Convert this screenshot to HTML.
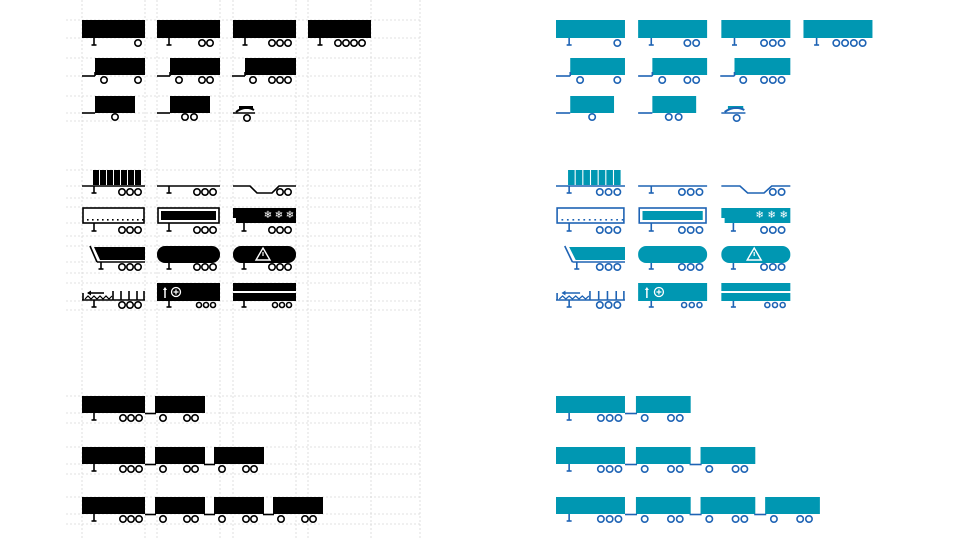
<!DOCTYPE html>
<html><head><meta charset="utf-8"><style>html,body{margin:0;padding:0;background:#fff;width:960px;height:540px;overflow:hidden}</style></head>
<body>
<svg id="s" width="960" height="540" xmlns="http://www.w3.org/2000/svg"></svg>
<script>
const S=document.getElementById('s');let h='';
const vx=[82,145,157,220,233,296,308,371,420];
vx.forEach(x=>h+=`<line x1="${x}" y1="0" x2="${x}" y2="540" stroke="#d8d8d8" stroke-width="0.8" stroke-dasharray="2,2"/>`);
const hy=[20,38,58,76,96,113,121,170,186,198,207,223,236,246,262,273,283,301,310,396,413,423,447,464,474,497,514,524];
hy.forEach(y=>h+=`<line x1="66" y1="${y}" x2="420" y2="${y}" stroke="#d8d8d8" stroke-width="0.8" stroke-dasharray="2,2"/>`);
function draw(O,s,F,L){
 let g='';
 const X=x=>O+(x-82)*s;
 const R=(x,y,w,hh,c=F)=>g+=`<rect x="${X(x)}" y="${y}" width="${w*s}" height="${hh}" fill="${c}"/>`;
 const W=(x,y,r=3.2)=>g+=`<circle cx="${X(x)}" cy="${y}" r="${r}" fill="none" stroke="${L}" stroke-width="1.6"/>`;
 const Ln=(x1,y1,x2,y2,w=1.6)=>g+=`<line x1="${X(x1)}" y1="${y1}" x2="${X(x2)}" y2="${y2}" stroke="${L}" stroke-width="${w}"/>`;
 const leg=(x,y1,y2)=>{Ln(x,y1,x,y2);g+=`<line x1="${X(x)-2.5}" y1="${y2}" x2="${X(x)+2.5}" y2="${y2}" stroke="${L}" stroke-width="1.6"/>`};
 [[82,[138]],[157,[202,210]],[233,[272,280,288]],[308,[338,346,354,362]]].forEach(([x,ws])=>{R(x,20,63,18);leg(x+12,38,45);ws.forEach(w=>W(w,43))});
 [[95,104,[138]],[170,179,[202,210]],[245,253,[272,280,288]]].forEach(([x,f,ws],i)=>{R(x,58,(i==2?51:50),17);Ln(x-13,76,x,76);Ln(x,76,x,72);W(f,80);ws.forEach(w=>W(w,80))});
 R(95,96,40,17);Ln(82,113,95,113);W(115,117);
 R(170,96,40,17);Ln(157,113,170,113);W(185,117);W(194,117);
 R(239,106,14,3);Ln(233,113,255,113);g+=`<path d="M${X(236)} 112 Q${X(245)} 105 ${X(254)} 110" stroke="${L}" stroke-width="2" fill="none"/>`;W(247,118);
 const w3=(b,y)=>[b,b+8,b+16].forEach(x=>W(x,y));
 for(let i=0;i<7;i++)R(93+i*7,170,6,15);Ln(82,186,145,186);leg(94,186,193);w3(122,192);
 Ln(157,186,220,186);leg(169,186,193);w3(197,192);
 g+=`<polyline points="${X(233)},186 ${X(250)},186 ${X(257)},193 ${X(272)},193 ${X(279)},186 ${X(296)},186" fill="none" stroke="${L}" stroke-width="1.6"/>`;W(280,192);W(288,192);
 g+=`<rect x="${X(83)}" y="208" width="${61*s}" height="15" fill="none" stroke="${L}" stroke-width="1.6"/>`;for(let i=0;i<12;i++)R(87+i*5,219,1.6,1.6,L);leg(94,223,231);w3(122,230);
 g+=`<rect x="${X(158)}" y="208" width="${61*s}" height="15" fill="none" stroke="${L}" stroke-width="1.6"/>`;R(161,211,55,9);leg(169,223,231);w3(197,230);
 g+=`<path d="M${X(233)} 208 H${X(296)} V223 H${X(236)} V218 H${X(233)} Z" fill="${F}"/>`;[268,279,290].forEach(x=>g+=`<text x="${X(x)}" y="218" font-family="DejaVu Sans,sans-serif" font-size="10" fill="#fff" text-anchor="middle">❄</text>`);leg(244,223,231);w3(272,230);
 g+=`<path d="M${X(94)} 247 H${X(145)} V260 H${X(100)} Z" fill="${F}"/>`;Ln(90,246,97,262);Ln(97,262,145,262);leg(101,262,269);w3(122,267);
 g+=`<rect x="${X(157)}" y="246" width="${63*s}" height="17" rx="8" fill="${F}"/>`;leg(169,263,269);w3(197,267);
 g+=`<rect x="${X(233)}" y="246" width="${63*s}" height="17" rx="8" fill="${F}"/><path d="M${X(263)} 248 L${X(263)+7} 260 H${X(263)-7} Z" fill="none" stroke="#fff" stroke-width="1.4"/><line x1="${X(263)}" y1="252" x2="${X(263)}" y2="256" stroke="#fff" stroke-width="1.2"/>`;leg(244,263,269);w3(272,267);
 Ln(82,300,145,300);Ln(83,293,83,300);
 let pts='';for(let i=0;i<10;i++)pts+=`${X(85+i*3)},${i%2?296:299} `;g+=`<polyline points="${pts}" fill="none" stroke="${L}" stroke-width="1.2"/>`;
 Ln(88,293,104,293);g+=`<path d="M${X(87)} 293 l4 -2.5 v5 z" fill="${L}"/>`;[113,121,129,137,144].forEach(x=>Ln(x,291,x,300));leg(94,300,307);w3(122,305);
 R(157,283,63,18);g+=`<line x1="${X(165)}" y1="289" x2="${X(165)}" y2="298" stroke="#fff" stroke-width="1.5"/><path d="M${X(165)-2} 290 l2 -3 l2 3z" fill="#fff"/><circle cx="${X(176)}" cy="292" r="4.5" fill="none" stroke="#fff" stroke-width="1.3"/><path d="M${X(176)-2.5} 292h5M${X(176)} 289.5v5" stroke="#fff" stroke-width="1.2"/>`;leg(169,301,307);[199,206,213].forEach(x=>W(x,305,2.5));
 R(233,283,63,8);R(233,293,63,8);leg(244,301,307);[275,282,289].forEach(x=>W(x,305,2.5));
 [396,447,497].forEach((y,k)=>{
  R(82,y,63,17);leg(94,y+17,y+24);w3(123,y+22);
  const bx=[155,214,273];
  for(let i=0;i<=k;i++){const x=bx[i];R(x,y,50,17);Ln(x-10,y+17.5,x+1,y+17.5);W(x+8,y+22);W(x+32,y+22);W(x+40,y+22);}
 });
 return g;
}
h+=draw(82,1,'#000','#000');
h+=draw(556,1.095,'#0097b2','#1e63b4');
S.innerHTML=h;
</script>
</body></html>
